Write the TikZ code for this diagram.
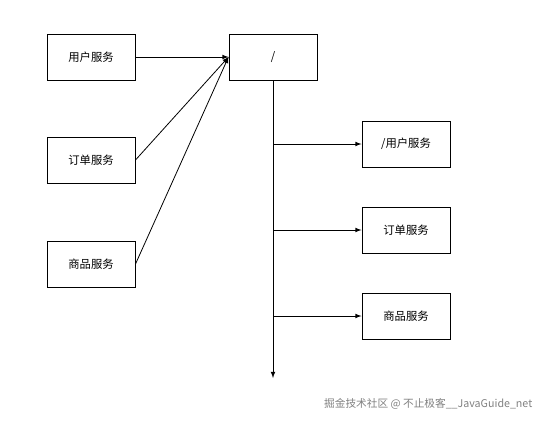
\documentclass[tikz,border=0pt]{standalone}
\usepackage{fontspec}
\newfontfamily\cjk{Noto Sans CJK SC}
\usepackage{xcolor}
\usepackage{tikz}
\usetikzlibrary{arrows,positioning}

\begin{document}
\begin{tikzpicture}[
        x=0.75pt, y=-0.75pt,
        % Define styles for the boxes and connectors
        box/.style={
            draw,
            rectangle,
            minimum width=66pt,
            minimum height=34.5pt,
            line width=0.75pt,
            font=\cjk\fontsize{8.5pt}{10pt}\selectfont
        },
        service/.style={
            box
        },
        gateway/.style={
            box
        },
        arrow/.style={
            ->,
            >=latex,
            line width=0.6pt
        }
    ]

    % Fix the picture size
    \useasboundingbox (0,0) rectangle (545,421);

    % Place the client side services
    \node[service] (usr) at (91,57) {用户服务};
    \node[service] (order) at (91,160) {订单服务};
    \node[service] (goods) at (91,264) {商品服务};

    % Place the gateway root
    \node[gateway] (root) at (273,57) {/};

    % Place the routed services
    \node[service] (rusr) at (406,144) {/用户服务};
    \node[service] (rorder) at (406,230) {订单服务};
    \node[service] (rgoods) at (406,316) {商品服务};

    % Draw connections into the gateway
    \foreach \s in {usr,order,goods} {
        \draw[arrow] (\s.east) -- (root.west);
    }

    % Draw the trunk and its branches
    \coordinate (trunkend) at (273,378);
    \draw[arrow] (root.south) -- (trunkend);
    \foreach \s in {rusr,rorder,rgoods} {
        \draw[arrow] (root.south |- \s.west) -- (\s.west);
    }

    % Watermark
    \node[text=black!50, font=\cjk\fontsize{8pt}{10pt}\selectfont, anchor=east] (mark) at (537,404) {掘金技术社区 @ 不止极客\_\_JavaGuide\_net};

    \end{tikzpicture}
\end{document}
